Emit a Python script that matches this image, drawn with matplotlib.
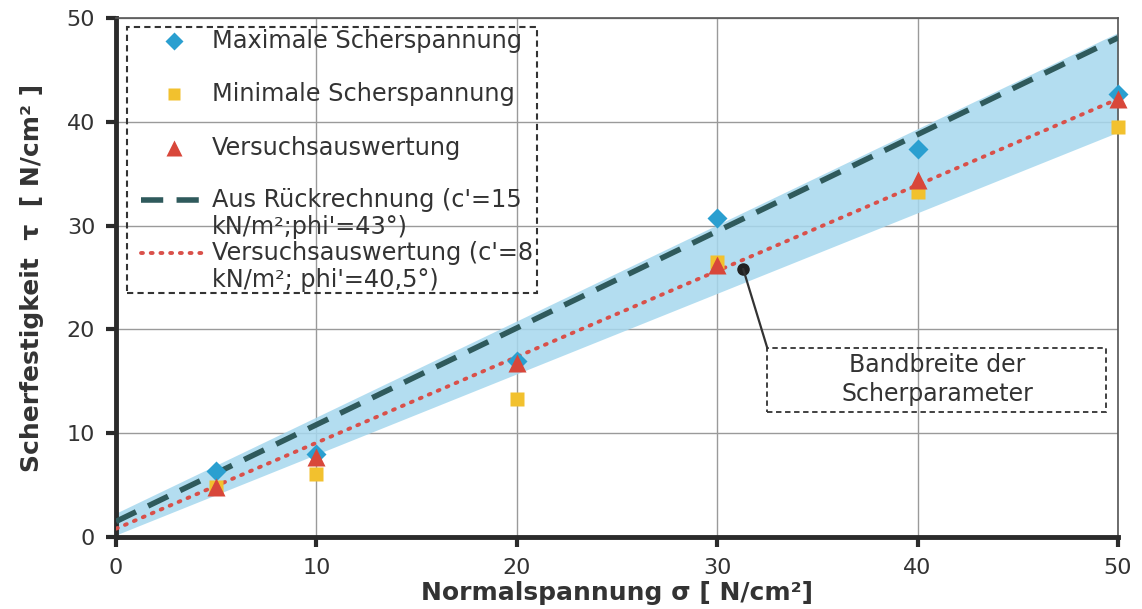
import matplotlib
matplotlib.use('Agg')
import matplotlib.pyplot as plt
from matplotlib.patches import Rectangle
from matplotlib.lines import Line2D

plt.rcParams['font.family'] = ['DejaVu Sans']

# Versuchsdaten (Rahmenscherversuch)
sigma = [5, 10, 20, 30, 40, 50]
tau_max = [6.4, 8.0, 17.0, 30.7, 37.4, 42.7]
tau_min = [4.8, 6.1, 13.3, 26.5, 33.2, 39.5]
tau_versuch = [4.8, 7.7, 16.8, 26.2, 34.4, 42.2]

# Geraden (Endpunkte bei sigma = 0 und 50)
x_gerade = [0, 50]
rueckrechnung = [1.5, 48.1]
versuch_gerade = [0.8, 42.2]

# Bandbreite der Scherparameter
band_oben = [2.3, 48.6]
band_unten = [0.2, 39.0]

txt = '#333333'
c_max = '#2a9fd0'
c_min = '#f2c12e'
c_tri = '#d8473a'
c_dash = '#2f5a5c'
c_dot = '#d9504a'

fig = plt.figure(figsize=(11.42, 6.09), dpi=100)
ax = fig.add_axes([0.1016, 0.1182, 0.8774, 0.8522])

ax.fill_between(x_gerade, band_unten, band_oben, color='#a6d8ee', alpha=0.85, lw=0, zorder=1)
ax.plot(x_gerade, rueckrechnung, color=c_dash, lw=4, dashes=(4, 2.4), zorder=3)
ax.plot(x_gerade, versuch_gerade, color=c_dot, lw=2.8, dashes=(0.5, 2.0), dash_capstyle='round', zorder=3)

ax.plot(sigma, tau_max, 'D', color=c_max, ms=10, mec='none', zorder=4, clip_on=False)
ax.plot(sigma, tau_min, 's', color=c_min, ms=10, mec='none', zorder=4, clip_on=False)
ax.plot(sigma, tau_versuch, '^', color=c_tri, ms=13, mec='none', zorder=5, clip_on=False)

ax.set_xlim(0, 50)
ax.set_ylim(0, 50)
ax.set_xticks(range(0, 51, 10))
ax.set_yticks(range(0, 51, 10))
ax.grid(True, color='#9a9a9a', lw=1.0, zorder=0)
ax.set_axisbelow(True)

for s in ['left', 'bottom']:
    ax.spines[s].set_linewidth(3.5)
    ax.spines[s].set_color('#2b2b2b')
for s in ['top', 'right']:
    ax.spines[s].set_linewidth(1.2)
    ax.spines[s].set_color('#555555')
ax.tick_params(axis='both', direction='out', length=7, width=3, color='#2b2b2b',
               labelsize=16, labelcolor=txt, pad=8)

ax.set_xlabel('Normalspannung σ [ N/cm²]', fontsize=18, fontweight='bold', color=txt, labelpad=2)
ax.set_ylabel('Scherfestigkeit  τ  [ N/cm² ]', fontsize=18, fontweight='bold', color=txt, labelpad=16)

# Legende im gestrichelten Rahmen
T = ax.transAxes
ax.add_patch(Rectangle((0.011, 0.470), 0.409, 0.513, transform=T, fill=False,
                       ls=(0, (3, 2)), lw=1.5, ec='#333333', zorder=6, clip_on=False))
zeilen = [0.956, 0.854, 0.750]
ax.add_line(Line2D([0.058], [zeilen[0]], marker='D', color=c_max, ms=9, mec='none', transform=T, ls='none', zorder=7))
ax.add_line(Line2D([0.058], [zeilen[1]], marker='s', color=c_min, ms=9, mec='none', transform=T, ls='none', zorder=7))
ax.add_line(Line2D([0.058], [zeilen[2]], marker='^', color=c_tri, ms=11, mec='none', transform=T, ls='none', zorder=7))
ax.add_line(Line2D([0.025, 0.086], [0.649, 0.649], color=c_dash, lw=4, dashes=(4, 2.4), transform=T, zorder=7))
ax.add_line(Line2D([0.025, 0.086], [0.547, 0.547], color=c_dot, lw=2.8, dashes=(0.5, 2.0),
                   dash_capstyle='round', transform=T, zorder=7))
eintraege = [
    ('Maximale Scherspannung', 0.956),
    ('Minimale Scherspannung', 0.854),
    ('Versuchsauswertung', 0.750),
    ("Aus Rückrechnung (c'=15", 0.649),
    ("kN/m²;phi'=43°)", 0.597),
    ("Versuchsauswertung (c'=8", 0.547),
    ("kN/m²; phi'=40,5°)", 0.495),
]
for t, y in eintraege:
    ax.text(0.096, y, t, transform=T, fontsize=17.3, color=txt, va='center', ha='left', zorder=7)

# Hinweis auf die Bandbreite
ax.plot([31.3], [25.8], 'o', color='#222222', ms=8, zorder=6)
ax.plot([31.3, 32.5], [25.8, 18.2], color='#333333', lw=1.6, zorder=6)
ax.add_patch(Rectangle((32.5, 12.0), 16.9, 6.2, fill=False, ls=(0, (3, 2)), lw=1.3,
                       ec='#333333', zorder=6))
ax.text(41.0, 16.6, 'Bandbreite der', fontsize=17, color=txt, ha='center', va='center', zorder=7)
ax.text(41.0, 13.8, 'Scherparameter', fontsize=17, color=txt, ha='center', va='center', zorder=7)

fig.savefig('out.png', dpi=100, facecolor='white')
